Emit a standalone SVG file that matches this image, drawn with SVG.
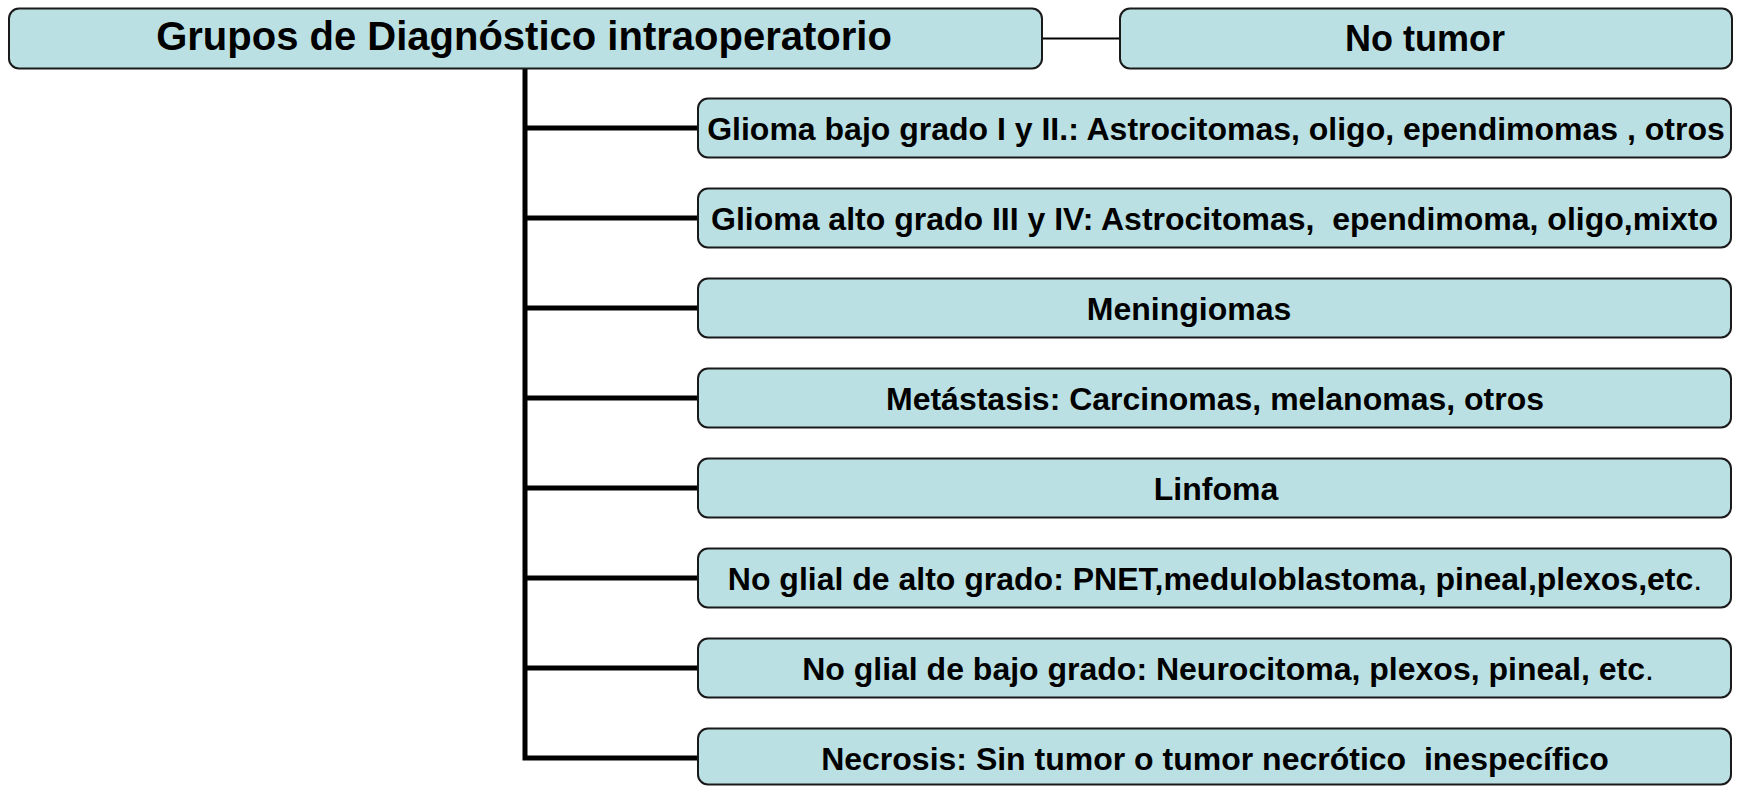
<svg xmlns="http://www.w3.org/2000/svg" width="1742" height="786" viewBox="0 0 1742 786">
<style>
.box{fill:#BBE0E3;stroke:#1a1a1a;stroke-width:2}
.t{font-family:"Liberation Sans",Arial,sans-serif;font-weight:bold;fill:#000;text-anchor:middle;white-space:pre}
.c{font-size:32px}
.n{font-weight:normal}
.ln{stroke:#000;fill:none}
</style>
<rect width="1742" height="786" fill="#fff"/>
<g id="connectors">
<line class="ln" x1="1042" y1="38.5" x2="1120" y2="38.5" stroke-width="2"/>
<path class="ln" stroke-width="5" d="M525,69 V758 H698"/>
<path class="ln" stroke-width="5" d="M525,128 H698 M525,218 H698 M525,308 H698 M525,398 H698 M525,488 H698 M525,578 H698 M525,668 H698"/>
</g>
<g id="root">
<rect class="box" x="9" y="8.5" width="1033" height="60" rx="10"/>
<text class="t" x="524" y="50" font-size="40">Grupos de Diagnóstico intraoperatorio</text>
</g>
<g id="notumor">
<rect class="box" x="1120" y="8.5" width="612" height="60" rx="10"/>
<text class="t" x="1425" y="51" font-size="36">No tumor</text>
</g>
<g id="n1">
<rect class="box" x="698" y="98.5" width="1033" height="59" rx="10"/>
<text class="t c" x="1216" y="139.5">Glioma bajo grado I y II.: Astrocitomas, oligo, ependimomas , otros</text>
</g>
<g id="n2">
<rect class="box" x="698" y="188.5" width="1033" height="59" rx="10"/>
<text class="t c" x="1214.5" y="229.5">Glioma alto grado III y IV: Astrocitomas,  ependimoma, oligo,mixto</text>
</g>
<g id="n3">
<rect class="box" x="698" y="278.5" width="1033" height="59" rx="10"/>
<text class="t c" x="1189" y="319.5">Meningiomas</text>
</g>
<g id="n4">
<rect class="box" x="698" y="368.5" width="1033" height="59" rx="10"/>
<text class="t c" x="1215" y="409.5">Metástasis: Carcinomas, melanomas, otros</text>
</g>
<g id="n5">
<rect class="box" x="698" y="458.5" width="1033" height="59" rx="10"/>
<text class="t c" x="1216" y="499.5">Linfoma</text>
</g>
<g id="n6">
<rect class="box" x="698" y="548.5" width="1033" height="59" rx="10"/>
<text class="t c" x="1215" y="589.5">No glial de alto grado: PNET,meduloblastoma, pineal,plexos,etc<tspan class="n">.</tspan></text>
</g>
<g id="n7">
<rect class="box" x="698" y="638.5" width="1033" height="59" rx="10"/>
<text class="t c" x="1228" y="679.5">No glial de bajo grado: Neurocitoma, plexos, pineal, etc<tspan class="n">.</tspan></text>
</g>
<g id="n8">
<rect class="box" x="698" y="728.5" width="1033" height="56" rx="10"/>
<text class="t c" x="1215" y="769.5">Necrosis: Sin tumor o tumor necrótico  inespecífico</text>
</g>
</svg>
